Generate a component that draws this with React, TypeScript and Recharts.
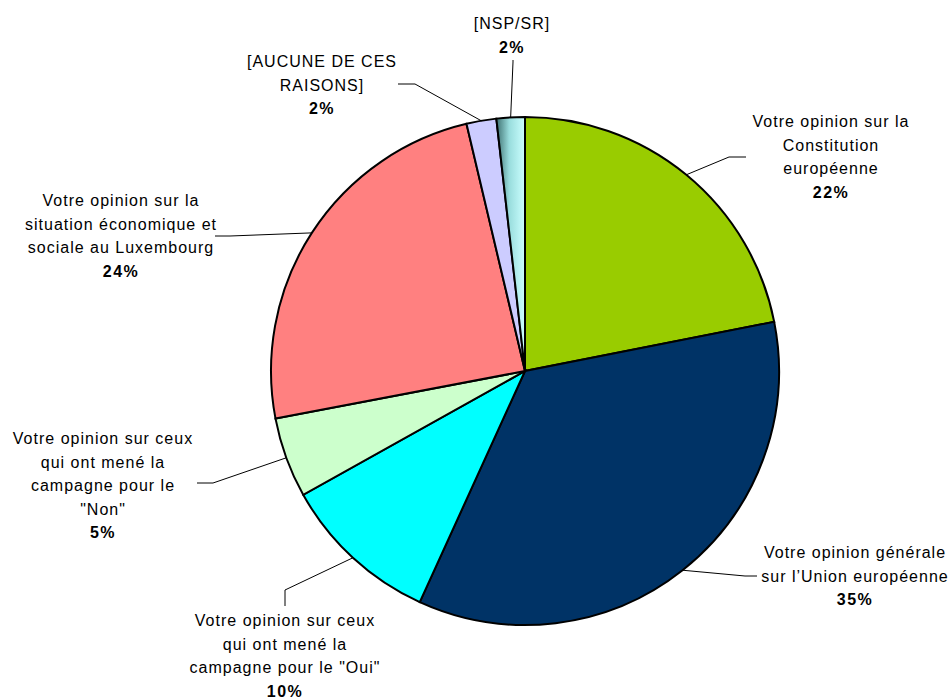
import { PieChart, Pie, Cell } from "recharts";

const labels = [
    ["Votre opinion sur la", "Constitution", "européenne"],
    ["Votre opinion générale", "sur l\u2019Union européenne"],
    ["Votre opinion sur ceux", "qui ont mené la", "campagne pour le \"Oui\""],
    ["Votre opinion sur ceux", "qui ont mené la", "campagne pour le", "\"Non\""],
    ["Votre opinion sur la", "situation économique et", "sociale au Luxembourg"],
    ["[AUCUNE DE CES", "RAISONS]"],
    ["[NSP/SR]"]
];
const values = [21.9, 34.9, 10.1, 5.1, 24.3, 1.9, 1.8];
const colors = ["#99CC00", "#003366", "#00FFFF", "#CCFFCC", "#FF8080", "#CCCCFF", "url(#nspFill)"];

const data = values.map((v, i) => ({ name: labels[i].join(" "), value: v }));

// leader elbow / end points and text anchor (chart coordinates)
const labelLayout = [
    { elbow: [729, 157], end: [746, 157], tx: 831, ty: 122 },
    { elbow: [745, 576], end: [757, 576], tx: 855, ty: 553 },
    { elbow: [285, 590], end: [285, 606], tx: 285, ty: 621 },
    { elbow: [213, 483], end: [197, 483], tx: 103, ty: 439 },
    { elbow: [230, 236], end: [215, 236], tx: 121, ty: 201 },
    { elbow: [415, 84], end: [398, 84], tx: 322, ty: 62 },
    { elbow: [513, 62], end: [513, 60], tx: 512, ty: 24 }
];

const RAD = Math.PI / 180;
const LINE_H = 23.5;

function renderLabel(props: any) {
    const { cx, cy, midAngle, outerRadius, index, value } = props;
    const sx = cx + outerRadius * Math.cos(-midAngle * RAD);
    const sy = cy + outerRadius * Math.sin(-midAngle * RAD);
    const lay = labelLayout[index];
    const lines = labels[index];
    return (
        <g key={"lbl" + index}>
            <polyline
                points={`${sx},${sy} ${lay.elbow[0]},${lay.elbow[1]} ${lay.end[0]},${lay.end[1]}`}
                fill="none"
                stroke="#000"
                strokeWidth={1}
            />
            <text
                x={lay.tx}
                y={lay.ty}
                textAnchor="middle"
                fontFamily="'Liberation Sans', Arial, sans-serif"
                fontSize={16}
                letterSpacing={1}
                fill="#000"
            >
                {lines.map((l, i) => (
                    <tspan key={i} x={lay.tx} dy={i === 0 ? 5 : LINE_H}>{l}</tspan>
                ))}
                <tspan x={lay.tx} dy={LINE_H} fontWeight="bold" letterSpacing={1.5}>
                    {Math.round(value)}%
                </tspan>
            </text>
        </g>
    );
}

export default function App() {
    return (
        <div style={{ position: "absolute", left: 0, top: 0, background: "#fff" }}>
            <PieChart width={951} height={698} margin={{ top: 0, right: 0, bottom: 0, left: 0 }}>
                <defs>
                    <linearGradient id="nspFill" x1="0" y1="0" x2="1" y2="0">
                        <stop offset="0%" stopColor="#3E7070" />
                        <stop offset="45%" stopColor="#99DDDD" />
                        <stop offset="100%" stopColor="#CCFFFF" />
                    </linearGradient>
                </defs>
                <Pie
                    data={data}
                    dataKey="value"
                    cx={525}
                    cy={371}
                    outerRadius={254}
                    startAngle={90}
                    endAngle={-270}
                    stroke="#000"
                    strokeWidth={2}
                    label={renderLabel}
                    labelLine={false}
                    isAnimationActive={false}
                >
                    {data.map((d, i) => (
                        <Cell key={d.name} fill={colors[i]} />
                    ))}
                </Pie>
            </PieChart>
        </div>
    );
}
